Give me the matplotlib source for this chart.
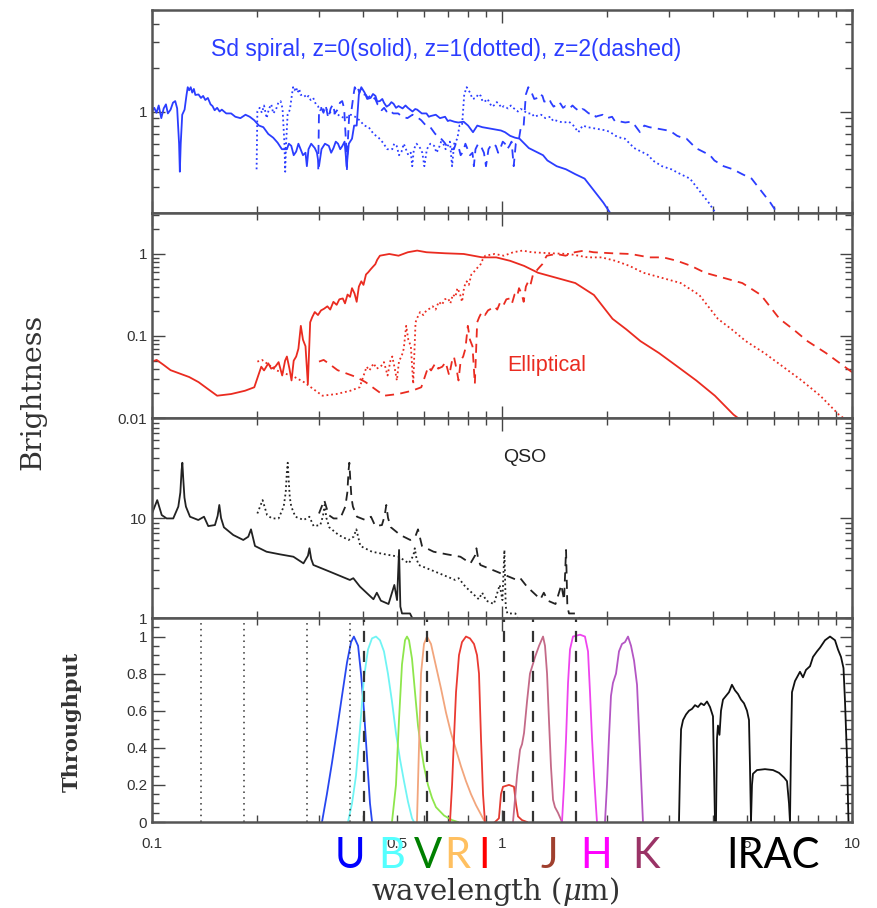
import matplotlib
matplotlib.use("Agg")
import matplotlib.pyplot as plt
from matplotlib.ticker import FixedLocator, FixedFormatter, NullFormatter, LogLocator, MultipleLocator
import matplotlib.transforms as mtransforms

plt.rcParams['font.family'] = ['Liberation Sans', 'DejaVu Sans']
plt.rcParams['mathtext.fontset'] = 'dejavuserif'

# ---------------------------------------------------------------------------
# Template spectra in the rest frame (wavelength in micron, relative flux)
# ---------------------------------------------------------------------------
redshifts = [0, 1, 2]

spiral_wave = [0.0995, 0.1000, 0.1015, 0.1030, 0.1045, 0.1063, 0.1080, 0.1096, 0.1110,
               0.1130, 0.1148, 0.1165, 0.1180, 0.1195, 0.1201, 0.1208, 0.1220, 0.1239,
               0.1255, 0.1265, 0.1277, 0.1290, 0.1303, 0.1317, 0.1330, 0.1358, 0.1380,
               0.1400, 0.1420, 0.1444, 0.1470, 0.1489, 0.1510, 0.1535, 0.1560, 0.1583,
               0.1630, 0.1683, 0.1730, 0.1789, 0.1850, 0.1902, 0.1960, 0.2021, 0.2080,
               0.2149, 0.2220, 0.2285, 0.2350, 0.2429, 0.2460, 0.2500, 0.2540, 0.2582,
               0.2620, 0.2650, 0.2700, 0.2745, 0.2770, 0.2800, 0.2850, 0.2918, 0.2960,
               0.3000, 0.3050, 0.3120, 0.3200, 0.3250, 0.3300, 0.3350, 0.3400, 0.3450,
               0.3500, 0.3550, 0.3600, 0.3650, 0.3728, 0.3780, 0.3844, 0.3900, 0.3963,
               0.4050, 0.4120, 0.4213, 0.4280, 0.4350, 0.4400, 0.4479, 0.4550, 0.4600,
               0.4680, 0.4763, 0.4830, 0.4900, 0.4980, 0.5063, 0.5200, 0.5300, 0.5383,
               0.5550, 0.5650, 0.5723, 0.5900, 0.6084, 0.6180, 0.6250, 0.6468, 0.6650,
               0.6876, 0.7000, 0.7100, 0.7311, 0.7500, 0.7772, 0.8000, 0.8263, 0.8500,
               0.8784, 0.9050, 0.9339, 0.9600, 0.9929, 1.0200, 1.0550, 1.0900, 1.1220,
               1.1600, 1.1930, 1.2300, 1.2680, 1.3100, 1.3480, 1.4330, 1.5230, 1.6200,
               1.7220, 1.8310, 1.9470, 2.0380, 2.1500]
spiral_flux = [0.40, 1.00, 1.06, 0.98, 1.10, 0.90, 1.05, 1.12, 0.97,
               1.03, 1.15, 1.18, 1.05, 0.60, 0.385, 0.60, 0.95, 1.03,
               1.30, 1.47, 1.40, 1.47, 1.35, 1.43, 1.30, 1.31, 1.24,
               1.28, 1.20, 1.24, 1.12, 1.09, 1.02, 1.06, 1.00, 1.03,
               0.97, 0.97, 0.92, 0.90, 0.95, 0.92, 0.87, 0.80, 0.78,
               0.70, 0.66, 0.61, 0.55, 0.55, 0.60, 0.58, 0.50, 0.53,
               0.60, 0.56, 0.50, 0.52, 0.42, 0.55, 0.60, 0.56, 0.52,
               0.42, 0.55, 0.60, 0.58, 0.52, 0.56, 0.62, 0.60, 0.55,
               0.58, 0.62, 0.42, 0.60, 0.65, 0.80, 0.80, 1.31, 1.47,
               1.35, 1.22, 1.24, 1.32, 1.28, 1.17, 1.18, 1.22, 1.15,
               1.08, 1.11, 1.16, 1.13, 1.06, 1.09, 1.05, 1.10, 1.06,
               1.00, 1.04, 1.03, 0.97, 0.97, 0.92, 0.93, 0.95, 0.90,
               0.92, 0.86, 0.87, 0.85, 0.84, 0.85, 0.80, 0.72, 0.80,
               0.78, 0.77, 0.76, 0.75, 0.74, 0.72, 0.68, 0.66, 0.65,
               0.60, 0.56, 0.54, 0.52, 0.50, 0.46, 0.42, 0.40, 0.37,
               0.345, 0.285, 0.236, 0.20, 0.17]

ellip_wave = [0.1000, 0.1031, 0.1080, 0.1130, 0.1201, 0.1277, 0.1358, 0.1444, 0.1535,
              0.1683, 0.1844, 0.1960, 0.2052, 0.2090, 0.2149, 0.2190, 0.2250, 0.2300,
              0.2355, 0.2400, 0.2429, 0.2470, 0.2504, 0.2540, 0.2582, 0.2620, 0.2662,
              0.2700, 0.2745, 0.2788, 0.2831, 0.2870, 0.2918, 0.2980, 0.3040, 0.3102,
              0.3170, 0.3230, 0.3298, 0.3370, 0.3430, 0.3508, 0.3560, 0.3620, 0.3680,
              0.3728, 0.3790, 0.3844, 0.3900, 0.3963, 0.4020, 0.4087, 0.4150, 0.4213,
              0.4280, 0.4345, 0.4400, 0.4479, 0.4763, 0.5063, 0.5383, 0.5723, 0.6084,
              0.6876, 0.7772, 0.8784, 0.9627, 1.0550, 1.1570, 1.2680, 1.4330, 1.6200,
              1.8310, 2.0690, 2.2680, 2.4860, 2.8100, 3.1760, 3.5890, 4.0570, 4.5850,
              4.8000]
ellip_flux = [0.0487, 0.0511, 0.0443, 0.0383, 0.0348, 0.0316, 0.0274, 0.0226, 0.0187,
              0.0196, 0.0215, 0.0237, 0.0422, 0.0380, 0.0464, 0.0400, 0.0422, 0.0480,
              0.0330, 0.0500, 0.0562, 0.0400, 0.0287, 0.0500, 0.0562, 0.0700, 0.133,
              0.090, 0.075, 0.0261, 0.147, 0.170, 0.196, 0.180, 0.205, 0.215,
              0.230, 0.210, 0.261, 0.240, 0.280, 0.287, 0.250, 0.320, 0.300,
              0.383, 0.330, 0.261, 0.40, 0.464, 0.42, 0.562, 0.60, 0.649,
              0.70, 0.75, 0.85, 0.953, 1.00, 0.953, 1.05, 1.10, 1.05,
              1.02, 1.00, 0.909, 0.909, 0.825, 0.715, 0.590, 0.511, 0.442,
              0.316, 0.162, 0.120, 0.0866, 0.0619, 0.0422, 0.0287, 0.0187, 0.0110,
              0.0095]

qso_wave = [0.1000, 0.1035, 0.1066, 0.1101, 0.1150, 0.1189, 0.1205, 0.1215, 0.1221,
            0.1228, 0.1238, 0.1250, 0.1284, 0.1356, 0.1408, 0.1448, 0.1513, 0.1540,
            0.1557, 0.1575, 0.1605, 0.1707, 0.1823, 0.1884, 0.1918, 0.1969, 0.2125,
            0.2321, 0.2535, 0.2709, 0.2790, 0.2817, 0.2850, 0.2891, 0.3226, 0.3676,
            0.3760, 0.3928, 0.4292, 0.4389, 0.4507, 0.4740, 0.4925, 0.5014, 0.5080,
            0.5124, 0.5180, 0.5460, 0.5580, 0.6000]
qso_flux = [11.1, 15.1, 10.7, 9.9, 9.9, 13.0, 18.0, 30.0, 35.7,
            25.0, 16.0, 13.0, 10.3, 9.55, 10.3, 8.3, 8.5, 10.5,
            13.5, 10.0, 8.07, 6.76, 6.03, 6.5, 7.7, 5.25, 4.6,
            4.33, 4.1, 3.52, 4.2, 4.98, 3.9, 3.39, 2.9, 2.4,
            2.5, 2.06, 1.54, 1.79, 1.49, 1.38, 2.14, 1.51, 4.79,
            1.30, 1.11, 1.11, 0.95, 0.90]

# ---------------------------------------------------------------------------
# Filter throughput curves (wavelength in micron, throughput)
# ---------------------------------------------------------------------------
u_wave = [0.306, 0.316, 0.3268, 0.3379, 0.349, 0.3607, 0.3704, 0.3774, 0.388, 0.3955,
          0.4034, 0.4114, 0.4196, 0.4254]
u_thru = [0.0, 0.15, 0.32, 0.50, 0.68, 0.86, 0.97, 1.0, 0.95, 0.80, 0.60, 0.35, 0.10, 0.0]

b_wave = [0.3631, 0.3728, 0.3827, 0.3928, 0.4034, 0.4141, 0.4251, 0.4365, 0.448, 0.460,
          0.4722, 0.4849, 0.4978, 0.511, 0.5248, 0.5387, 0.5532, 0.5605]
b_thru = [0.0, 0.10, 0.25, 0.50, 0.78, 0.93, 0.99, 1.0, 0.98, 0.92,
          0.80, 0.65, 0.48, 0.34, 0.22, 0.11, 0.02, 0.0]

v_wave = [0.4849, 0.4978, 0.5078, 0.5179, 0.5283, 0.5353, 0.5424, 0.5532, 0.5642, 0.5754,
          0.5870, 0.5986, 0.6145, 0.631, 0.6477, 0.683, 0.720, 0.7485]
v_thru = [0.0, 0.20, 0.55, 0.85, 0.98, 1.0, 0.98, 0.88, 0.70, 0.52,
          0.40, 0.30, 0.20, 0.13, 0.08, 0.035, 0.01, 0.0]

r_wave = [0.5715, 0.5791, 0.587, 0.5986, 0.6105, 0.6268, 0.6477, 0.6694, 0.6918, 0.7149,
          0.739, 0.7636, 0.7891, 0.8155, 0.843, 0.871, 0.894]
r_thru = [0.0, 0.40, 0.80, 0.96, 1.0, 0.96, 0.84, 0.72, 0.59, 0.48,
          0.39, 0.30, 0.22, 0.15, 0.09, 0.04, 0.0]

i_wave = [0.7102, 0.720, 0.7291, 0.739, 0.7536, 0.7686, 0.7891, 0.810, 0.8318, 0.8484,
          0.8596, 0.871, 0.8826, 0.894]
i_thru = [0.0, 0.20, 0.45, 0.70, 0.90, 0.97, 1.0, 0.99, 0.96, 0.90,
          0.80, 0.45, 0.15, 0.0]

z_wave = [0.955, 0.980, 0.9934, 1.0066, 1.047, 1.082, 1.096, 1.111, 1.141, 1.179]
z_thru = [0.0, 0.02, 0.15, 0.19, 0.20, 0.19, 0.10, 0.03, 0.01, 0.0]

j_wave = [1.075, 1.089, 1.104, 1.126, 1.141, 1.156, 1.179, 1.202, 1.243, 1.276,
          1.310, 1.327, 1.345, 1.362, 1.380, 1.399, 1.417, 1.445, 1.484]
j_thru = [0.0, 0.12, 0.25, 0.39, 0.42, 0.48, 0.65, 0.80, 0.89, 0.95,
          1.0, 0.95, 0.80, 0.55, 0.30, 0.12, 0.08, 0.05, 0.0]

h_wave = [1.484, 1.504, 1.524, 1.544, 1.564, 1.595, 1.671, 1.726, 1.761, 1.784,
          1.808, 1.832, 1.856, 1.868]
h_thru = [0.0, 0.20, 0.45, 0.75, 0.93, 1.0, 1.01, 1.0, 0.92, 0.70,
          0.45, 0.25, 0.08, 0.0]

k_wave = [1.969, 1.995, 2.021, 2.048, 2.075, 2.117, 2.159, 2.202, 2.246, 2.291,
          2.337, 2.384, 2.431, 2.463, 2.495, 2.528]
k_thru = [0.0, 0.20, 0.45, 0.68, 0.75, 0.80, 0.92, 0.96, 0.97, 1.0,
          0.95, 0.87, 0.74, 0.50, 0.25, 0.0]

irac1_wave = [3.204, 3.227, 3.248, 3.291, 3.356, 3.422, 3.491, 3.560, 3.631, 3.703,
              3.777, 3.852, 3.929, 4.007, 4.033, 4.060]
irac1_thru = [0.0, 0.30, 0.50, 0.55, 0.58, 0.60, 0.61, 0.63, 0.62, 0.64,
              0.63, 0.65, 0.62, 0.57, 0.30, 0.0]

irac2_wave = [4.087, 4.114, 4.140, 4.182, 4.224, 4.280, 4.365, 4.452, 4.539, 4.630,
              4.724, 4.818, 4.914, 5.012, 5.078, 5.111, 5.145]
irac2_thru = [0.0, 0.45, 0.52, 0.47, 0.60, 0.66, 0.68, 0.70, 0.74, 0.71,
              0.69, 0.66, 0.64, 0.60, 0.55, 0.30, 0.0]

irac3_wave = [5.145, 5.179, 5.213, 5.352, 5.641, 5.947, 6.186, 6.393, 6.520, 6.607, 6.650]
irac3_thru = [0.0, 0.20, 0.26, 0.28, 0.285, 0.28, 0.265, 0.24, 0.22, 0.10, 0.0]

irac4_wave = [6.650, 6.694, 6.738, 6.872, 7.009, 7.102, 7.244, 7.388, 7.586, 7.737,
              7.943, 8.103, 8.373, 8.654, 8.942, 9.120, 9.302, 9.456, 9.550, 9.676, 9.772]
irac4_thru = [0.0, 0.40, 0.70, 0.76, 0.79, 0.81, 0.78, 0.82, 0.84, 0.89,
              0.92, 0.94, 0.98, 1.0, 0.98, 0.93, 0.89, 0.83, 0.65, 0.35, 0.0]

# Reference wavelengths marked in the throughput panel
dotted_marks = [0.138, 0.183, 0.278, 0.368]
dashed_marks = [0.404, 0.61, 1.01, 1.23, 1.63]

band_names = ['U', 'B', 'V', 'R', 'I', 'J', 'H', 'K', 'IRAC']

# ---------------------------------------------------------------------------
# Figure layout
# ---------------------------------------------------------------------------
fig = plt.figure(figsize=(8.78, 9.08), dpi=100)
left, width = 152 / 878, 700 / 878
H = 908
ax1 = fig.add_axes([left, 1 - 213 / H, width, 203 / H])
ax2 = fig.add_axes([left, 1 - 418 / H, width, 205 / H])
ax3 = fig.add_axes([left, 1 - 618 / H, width, 200 / H])
ax4 = fig.add_axes([left, 1 - 822 / H, width, 204 / H])
axes = [ax1, ax2, ax3, ax4]

styles = ['-', (0, (1, 1.6)), (0, (5, 3.5))]
blue = '#2b3dff'
red = '#ea2b20'

for z, ls in zip(redshifts, styles):
    ax1.plot([w * (1 + z) for w in spiral_wave], spiral_flux, color=blue, lw=1.3, ls=ls)
    ax2.plot([w * (1 + z) for w in ellip_wave], ellip_flux, color=red, lw=1.3, ls=ls)
    ax3.plot([w * (1 + z) for w in qso_wave], qso_flux, color='#222222', lw=1.3, ls=ls)

filters = [
    (u_wave, u_thru, '#2747f0'),
    (b_wave, b_thru, '#70f4f4'),
    (v_wave, v_thru, '#8ee64c'),
    (r_wave, r_thru, '#f2a57c'),
    (i_wave, i_thru, '#ea3a32'),
    (z_wave, z_thru, '#e23a30'),
    (j_wave, j_thru, '#c46a88'),
    (h_wave, h_thru, '#ee44ee'),
    (k_wave, k_thru, '#b456c4'),
    (irac1_wave, irac1_thru, '#111111'),
    (irac2_wave, irac2_thru, '#111111'),
    (irac3_wave, irac3_thru, '#111111'),
    (irac4_wave, irac4_thru, '#111111'),
]
for wv, th, col in filters:
    ax4.plot(wv, th, color=col, lw=1.3)

for wl in dotted_marks:
    ax4.axvline(wl, color='#333333', lw=1.1, ls=(0, (1, 2.8)))
for wl in dashed_marks:
    ax4.axvline(wl, color='#333333', lw=1.6, ls=(0, (5, 4)))

# ---------------------------------------------------------------------------
# Axes, ticks
# ---------------------------------------------------------------------------
minor_x = [0.2, 0.3, 0.4, 0.5, 0.6, 0.7, 0.8, 0.9, 2, 3, 4, 5, 6, 7, 8, 9]
minor_x_labels = ['0.5' if v == 0.5 else ('5' if v == 5 else '') for v in minor_x]

for ax in axes:
    ax.set_xscale('log')
    ax.set_xlim(0.1, 10)
    ax.xaxis.set_major_locator(FixedLocator([0.1, 1, 10]))
    ax.xaxis.set_minor_locator(FixedLocator(minor_x))
    ax.xaxis.set_major_formatter(FixedFormatter(['0.1', '1', '10']))
    ax.xaxis.set_minor_formatter(FixedFormatter(minor_x_labels))
    ax.tick_params(which='both', direction='in', top=True, right=True,
                   color='#444444', width=1.0, labelsize=11, labelcolor='#333333')
    ax.tick_params(which='major', length=9)
    ax.tick_params(which='minor', length=5)
    ax.tick_params(axis='x', which='both', labelbottom=False)
    for sp in ax.spines.values():
        sp.set_linewidth(1.8)
        sp.set_color('#555555')

ax4.tick_params(axis='x', which='both', labelbottom=True, pad=11)

ax1.set_yscale('log')
ax1.set_ylim(0.2, 5)
ax1.set_yticks([1], labels=['1'])
ax1.yaxis.set_minor_locator(LogLocator(base=10, subs=range(2, 10)))
ax1.yaxis.set_minor_formatter(NullFormatter())

ax2.set_yscale('log')
ax2.set_ylim(0.01, 3.16)
ax2.set_yticks([0.01, 0.1, 1], labels=['0.01', '0.1', '1'])
ax2.yaxis.set_minor_locator(LogLocator(base=10, subs=range(2, 10)))
ax2.yaxis.set_minor_formatter(NullFormatter())

ax3.set_yscale('log')
ax3.set_ylim(1, 100)
ax3.set_yticks([1, 10, 100], labels=['1', '10', ''])
ax3.yaxis.set_minor_locator(LogLocator(base=10, subs=range(2, 10)))
ax3.yaxis.set_minor_formatter(NullFormatter())

ax4.set_ylim(0, 1.1)
ax4.set_yticks([0, 0.2, 0.4, 0.6, 0.8, 1.0], labels=['0', '0.2', '0.4', '0.6', '0.8', '1'])
ax4.yaxis.set_minor_locator(MultipleLocator(0.05))

for ax in axes:
    ax.tick_params(which='both', direction='in', top=True, right=True)

# ---------------------------------------------------------------------------
# Text
# ---------------------------------------------------------------------------
ax1.text(0.4207, 0.803, 'Sd spiral, z=0(solid), z=1(dotted), z=2(dashed)',
         transform=ax1.transAxes, ha='center', va='center', color=blue, fontsize=16.5)
ax2.text(0.564, 0.254, 'Elliptical', transform=ax2.transAxes,
         ha='center', va='center', color=red, fontsize=15.5)
ax3.text(0.533, 0.80, 'QSO', transform=ax3.transAxes,
         ha='center', va='center', color='#222222', fontsize=14)

fig.text(33 / 878, 1 - 392 / H, 'Brightness', rotation=90, ha='center', va='center',
         family='DejaVu Serif', fontsize=20.5, color='#333333')
fig.text(72 / 878, 1 - 722 / H, 'Throughput', rotation=90, ha='center', va='center',
         family='DejaVu Serif', fontsize=15, fontweight='bold', color='#333333')
fig.text(495 / 878, 1 - 891 / H, r'wavelength ($\mu$m)', ha='center', va='center',
         family='DejaVu Serif', fontsize=21, color='#333333')

band_x = [0.368, 0.485, 0.615, 0.744, 0.888, 1.362, 1.855, 2.58, 5.95]
band_colors = ['#0000ff', '#55ffff', '#008000', '#ffc060', '#ff0000',
               '#a0402e', '#ff00ff', '#9a3366', '#000000']
trans = mtransforms.blended_transform_factory(ax4.transData, fig.transFigure)
for name, bx, bc in zip(band_names, band_x, band_colors):
    fig.text(bx, 1 - 868 / H, name, transform=trans, ha='center', va='baseline',
             family='Lato', fontsize=30, color=bc, zorder=10)

fig.savefig('out.png', dpi=100)
